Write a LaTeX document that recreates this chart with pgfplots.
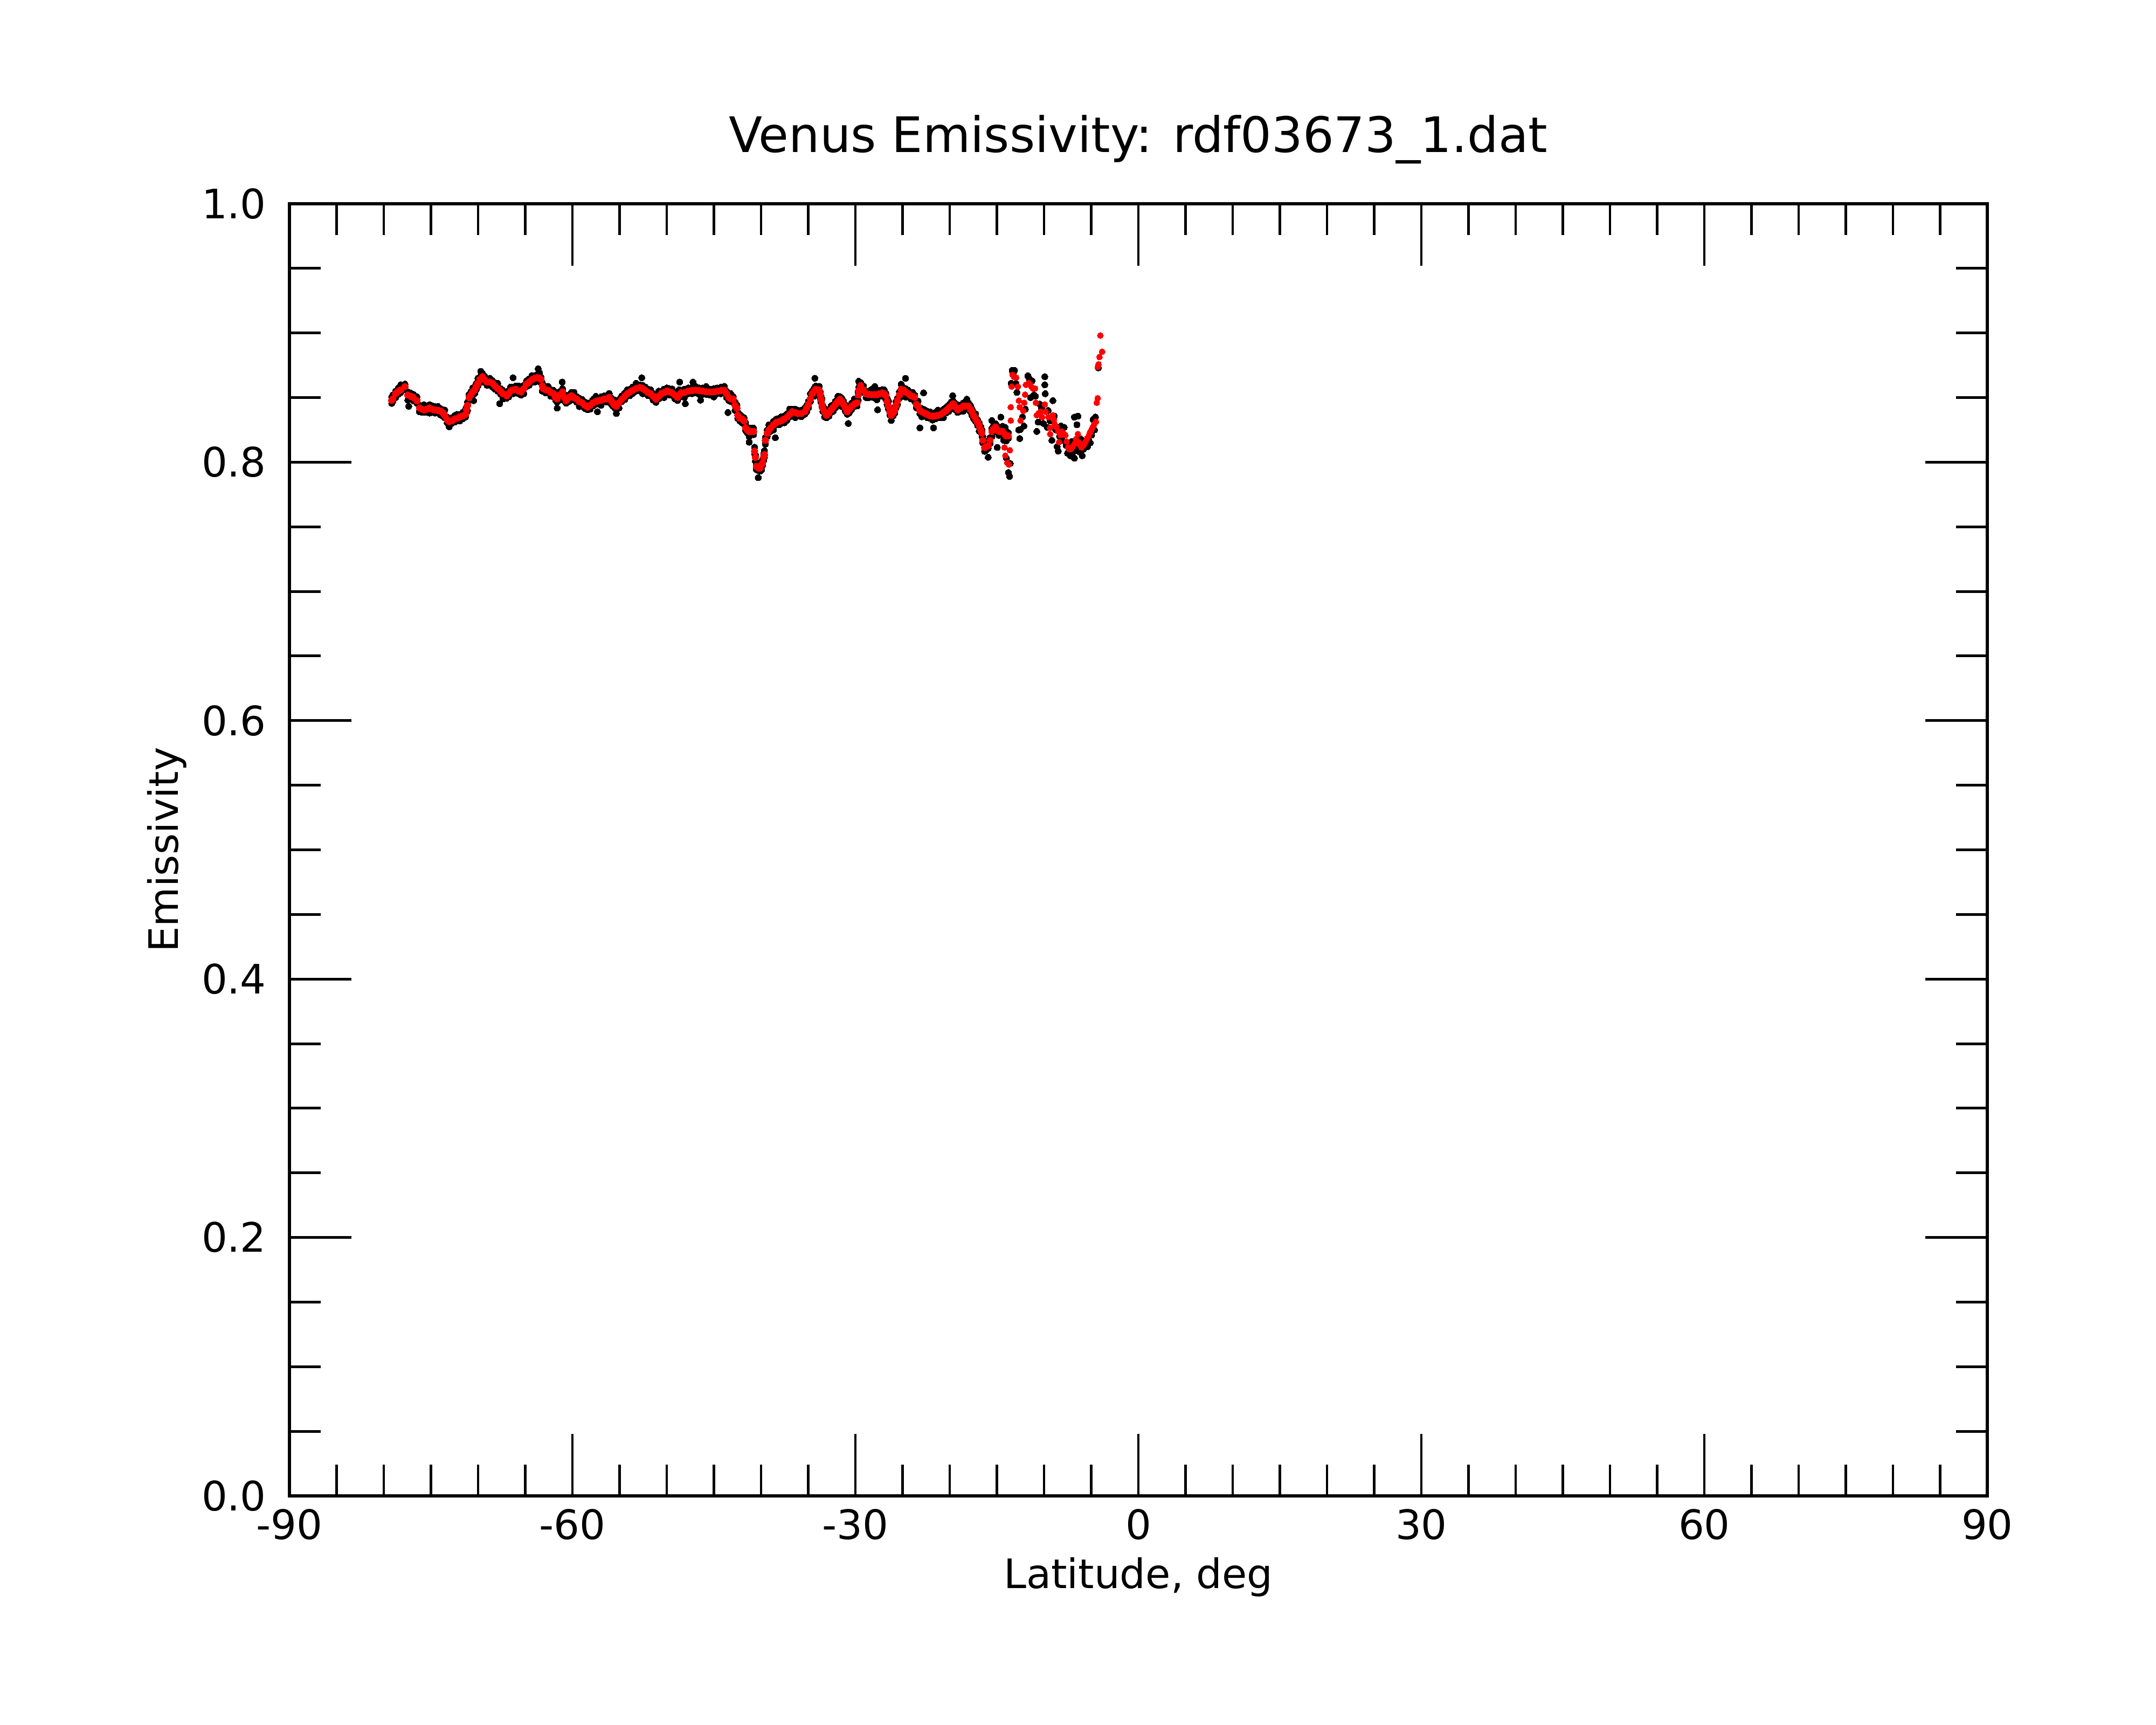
\documentclass[border=0pt]{standalone}
\usepackage{fontspec}
\setmainfont{DejaVu Sans}
\usepackage{pgfplots}
\usepackage{pgfplotstable}
\pgfplotsset{compat=1.18}

\pgfplotstableread{
x r b1 b2
-79.16 0.848 0.8505 0.8455
-79.05 0.849 0.852 0.847
-78.75 0.853 0.855 0.850
-78.45 0.855 0.8575 0.8525
-78.20 0.856 0.860 0.854
-77.75 0.8585 0.8605 0.856
-77.45 0.852 0.8545 0.848
-77.15 0.851 0.8535 0.849
-76.85 0.850 0.8525 0.8475
-76.49 0.8476 0.8506 0.8456
-76.21 0.842 0.844 0.839
-75.94 0.841 0.8435 0.8385
-75.74 0.8405 0.8445 0.8385
-75.44 0.841 0.843 0.8385
-75.14 0.842 0.8445 0.838
-74.84 0.841 0.8435 0.839
-74.59 0.8405 0.843 0.838
-74.24 0.840 0.843 0.838
-74.01 0.8397 0.8417 0.8367
-73.73 0.838 0.8405 0.8355
-73.53 0.8363 0.8403 0.8343
-73.28 0.833 0.835 0.8305
-73.06 0.8314 0.8339 0.8274
-72.78 0.832 0.8345 0.830
-72.49 0.8335 0.836 0.831
-72.23 0.834 0.837 0.832
-71.93 0.835 0.837 0.832
-71.62 0.836 0.8385 0.8335
-71.34 0.837 0.841 0.835
-71.22 0.841 0.843 0.8385
-71.12 0.844 0.8465 0.840
-70.96 0.850 0.8525 0.848
-70.77 0.852 0.8545 0.8495
-70.58 0.8544 0.8574 0.8524
-70.37 0.856 0.858 0.853
-70.20 0.8585 0.861 0.856
-70.02 0.861 0.865 0.859
-69.82 0.864 0.866 0.8615
-69.54 0.8662 0.8687 0.8622
-69.31 0.864 0.8665 0.862
-69.05 0.862 0.8645 0.8595
-68.76 0.862 0.865 0.860
-68.49 0.8613 0.8633 0.8583
-68.21 0.859 0.8615 0.8565
-67.92 0.857 0.861 0.855
-67.61 0.855 0.857 0.8525
-67.35 0.853 0.8555 0.849
-66.97 0.8515 0.854 0.8495
-66.75 0.853 0.8555 0.8505
-66.58 0.855 0.858 0.853
-66.30 0.856 0.858 0.853
-66.01 0.8564 0.8589 0.8539
-65.70 0.855 0.859 0.853
-65.44 0.8544 0.8564 0.8519
-65.15 0.857 0.8595 0.853
-64.87 0.8605 0.863 0.8585
-64.60 0.862 0.8645 0.8595
-64.29 0.864 0.867 0.862
-63.99 0.865 0.867 0.862
-63.72 0.8654 0.8679 0.8629
-63.49 0.865 0.869 0.863
-63.34 0.864 0.866 0.8615
-63.19 0.859 0.8615 0.855
-63.09 0.857 0.8595 0.855
-62.84 0.856 0.8585 0.8535
-62.58 0.8557 0.8587 0.8537
-62.29 0.854 0.856 0.851
-62.00 0.853 0.8555 0.8505
-61.78 0.850 0.854 0.848
-61.62 0.849 0.851 0.8465
-61.38 0.852 0.8545 0.848
-61.05 0.8544 0.8569 0.8524
-60.83 0.850 0.8525 0.8475
-60.67 0.8476 0.8506 0.8456
-60.38 0.850 0.852 0.847
-60.10 0.8515 0.854 0.849
-59.83 0.850 0.854 0.848
-59.53 0.8488 0.8508 0.8463
-59.27 0.847 0.8495 0.843
-58.96 0.846 0.8485 0.844
-58.67 0.844 0.8465 0.8415
-58.39 0.8426 0.8456 0.8406
-58.12 0.844 0.846 0.841
-57.82 0.846 0.8485 0.8435
-57.52 0.847 0.851 0.845
-57.25 0.8476 0.8496 0.8451
-56.96 0.848 0.8505 0.844
-56.67 0.8488 0.8513 0.8468
-56.36 0.849 0.8515 0.8465
-56.10 0.8502 0.8532 0.8482
-55.91 0.848 0.850 0.845
-55.72 0.846 0.8485 0.8435
-55.51 0.844 0.848 0.842
-55.34 0.8433 0.8453 0.8408
-55.06 0.846 0.8485 0.842
-54.77 0.8488 0.8513 0.8468
-54.45 0.851 0.8535 0.8485
-54.19 0.853 0.856 0.851
-53.90 0.8545 0.8565 0.8515
-53.62 0.8557 0.8582 0.8532
-53.25 0.857 0.861 0.855
-52.86 0.8578 0.8598 0.8553
-52.55 0.857 0.8595 0.853
-52.28 0.8557 0.8582 0.8537
-51.99 0.854 0.8565 0.8515
-51.71 0.853 0.856 0.851
-51.44 0.851 0.853 0.848
-51.14 0.8488 0.8513 0.8463
-50.84 0.851 0.855 0.849
-50.57 0.853 0.855 0.8505
-50.29 0.854 0.8565 0.850
-49.99 0.855 0.8575 0.853
-49.73 0.8545 0.857 0.852
-49.43 0.8537 0.8567 0.8517
-49.13 0.852 0.854 0.849
-48.86 0.8502 0.8527 0.8477
-48.68 0.852 0.856 0.850
-48.48 0.8537 0.8557 0.8512
-48.13 0.854 0.8565 0.850
-47.72 0.855 0.8575 0.853
-47.32 0.8555 0.858 0.853
-46.95 0.8557 0.8587 0.8537
-46.57 0.8555 0.8575 0.8525
-46.19 0.855 0.8575 0.8525
-45.82 0.8545 0.8585 0.8525
-45.43 0.8544 0.8564 0.8519
-45.01 0.8545 0.857 0.8505
-44.66 0.855 0.8575 0.853
-44.26 0.8555 0.858 0.853
-43.90 0.8557 0.8587 0.8537
-43.66 0.853 0.855 0.850
-43.42 0.8502 0.8527 0.8477
-43.21 0.849 0.853 0.847
-42.95 0.8488 0.8508 0.8463
-42.76 0.844 0.8465 0.840
-42.56 0.8418 0.8443 0.8398
-42.47 0.8363 0.8388 0.8338
-42.25 0.834 0.837 0.832
-42.02 0.8335 0.8355 0.8305
-41.80 0.832 0.8345 0.8295
-41.64 0.8266 0.8306 0.8246
-41.45 0.825 0.827 0.8225
-41.26 0.8238 0.8263 0.8198
-41.00 0.8238 0.8263 0.8218
-40.79 0.8238 0.8263 0.8213
-40.69 0.8086 0.8116 0.8066
-40.60 0.8038 0.8058 0.8008
-40.50 0.7968 0.7993 0.7943
-40.30 0.7955 0.7995 0.7935
-40.11 0.7955 0.7975 0.793
-39.94 0.798 0.8005 0.794
-39.83 0.7996 0.8021 0.7976
-39.72 0.804 0.8065 0.8015
-39.64 0.8059 0.8089 0.8039
-39.54 0.8169 0.8189 0.8139
-39.35 0.8224 0.8249 0.8199
-39.17 0.825 0.829 0.823
-38.97 0.8266 0.8286 0.8241
-38.69 0.829 0.8315 0.825
-38.40 0.8308 0.8333 0.8288
-38.09 0.8315 0.834 0.829
-37.83 0.8322 0.8352 0.8302
-37.53 0.8335 0.8355 0.8305
-37.25 0.8349 0.8374 0.8324
-36.98 0.837 0.841 0.835
-36.68 0.8391 0.8411 0.8366
-36.38 0.8385 0.841 0.8345
-36.11 0.8377 0.8402 0.8357
-35.73 0.8377 0.8402 0.8352
-35.36 0.8391 0.8421 0.8371
-35.17 0.842 0.844 0.839
-34.97 0.8447 0.8472 0.8422
-34.77 0.849 0.853 0.847
-34.59 0.853 0.855 0.8505
-34.37 0.855 0.8575 0.851
-34.21 0.8564 0.8589 0.8544
-34.02 0.856 0.8585 0.8535
-33.83 0.8557 0.8587 0.8537
-33.72 0.852 0.854 0.849
-33.64 0.8488 0.8513 0.8463
-33.55 0.845 0.849 0.843
-33.45 0.8418 0.8438 0.8393
-33.27 0.839 0.8415 0.835
-33.07 0.8363 0.8388 0.8343
-32.82 0.838 0.8405 0.8355
-32.58 0.8405 0.8435 0.8385
-32.36 0.8425 0.8445 0.8395
-32.11 0.8447 0.8472 0.8422
-31.86 0.847 0.851 0.845
-31.63 0.8488 0.8508 0.8463
-31.44 0.847 0.8495 0.843
-31.25 0.8447 0.8472 0.8427
-31.06 0.842 0.8445 0.8395
-30.87 0.8391 0.8421 0.8371
-30.66 0.841 0.843 0.838
-30.39 0.8433 0.8458 0.8408
-30.10 0.845 0.849 0.843
-29.82 0.846 0.848 0.8435
-29.70 0.852 0.8545 0.848
-29.63 0.8557 0.8582 0.8537
-29.44 0.8592 0.8617 0.8567
-29.15 0.856 0.859 0.854
-28.87 0.853 0.855 0.850
-28.60 0.8525 0.855 0.850
-28.30 0.8523 0.8563 0.8503
-27.99 0.8523 0.8543 0.8498
-27.72 0.8523 0.8548 0.8483
-27.44 0.853 0.8555 0.851
-27.15 0.8537 0.8562 0.8512
-26.94 0.853 0.856 0.851
-26.77 0.8515 0.8535 0.8485
-26.64 0.847 0.8495 0.8445
-26.49 0.8433 0.8473 0.8413
-26.34 0.839 0.841 0.8365
-26.20 0.8363 0.8388 0.8323
-25.99 0.838 0.8405 0.836
-25.82 0.8405 0.843 0.838
-25.69 0.844 0.847 0.842
-25.53 0.8476 0.8496 0.8446
-25.33 0.852 0.8545 0.8495
-25.15 0.8564 0.8604 0.8544
-24.93 0.856 0.858 0.8535
-24.68 0.8544 0.8569 0.8504
-24.38 0.853 0.8555 0.851
-24.11 0.8515 0.854 0.849
-23.93 0.851 0.854 0.849
-23.73 0.8502 0.8522 0.8472
-23.54 0.8447 0.8472 0.8422
-23.35 0.8433 0.8473 0.8413
-23.16 0.840 0.842 0.8375
-22.96 0.8391 0.8416 0.8351
-22.67 0.838 0.8405 0.836
-22.39 0.837 0.8395 0.8345
-22.12 0.836 0.839 0.834
-21.82 0.8356 0.8376 0.8326
-21.52 0.836 0.8385 0.8335
-21.25 0.8363 0.8403 0.8343
-20.97 0.837 0.839 0.8345
-20.67 0.8384 0.8409 0.8344
-20.39 0.840 0.8425 0.838
-20.10 0.8418 0.8443 0.8393
-19.86 0.8435 0.8465 0.8415
-19.63 0.8453 0.8473 0.8423
-19.41 0.843 0.8455 0.8405
-19.15 0.8405 0.8445 0.8385
-18.86 0.842 0.844 0.8395
-18.58 0.8433 0.8458 0.8393
-18.31 0.8435 0.846 0.8415
-18.00 0.8433 0.8458 0.8408
-17.80 0.841 0.844 0.839
-17.63 0.8391 0.8411 0.8361
-17.45 0.836 0.8385 0.8335
-17.25 0.8335 0.8375 0.8315
-17.05 0.831 0.833 0.8285
-16.87 0.828 0.8305 0.824
-16.70 0.825 0.8275 0.823
-16.58 0.8225 0.825 0.820
-16.49 0.8169 0.8199 0.8149
-16.30 0.8114 0.8134 0.8084
-16.10 0.812 0.8145 0.8095
-15.92 0.8127 0.8167 0.8107
-15.72 0.8169 0.8189 0.8144
-15.53 0.8238 0.8263 0.8198
-15.34 0.826 0.8285 0.824
-15.15 0.8273 0.8298 0.8248
-14.96 0.825 0.828 0.823
-14.77 0.8238 0.8258 0.8208
-14.59 0.8238 0.8263 0.8213
-14.39 0.8238 0.8278 0.8218
-14.19 0.822 0.824 0.8195
-14.01 0.8204 0.8229 0.8164
-13.79 0.8204 0.8229 0.8184
}\smooth

\pgfplotstableread{
x y
-14.19 0.8114
-14.10 0.8051
-13.91 0.7996
-13.72 0.7982
-13.62 0.8093
-13.53 0.8322
-13.53 0.8426
-13.43 0.8585
-13.34 0.8676
-13.18 0.866
-12.96 0.8655
-12.77 0.8585
-12.67 0.8476
-12.58 0.8426
-12.49 0.8322
-12.20 0.8397
-12.10 0.846
-12.01 0.8523
-11.92 0.8599
-11.63 0.8613
-11.48 0.860
-11.35 0.8585
-11.17 0.857
-10.96 0.857
-10.87 0.846
-10.77 0.8363
-10.57 0.838
-10.39 0.8391
-10.20 0.8349
-9.92 0.8447
-9.83 0.8391
-9.54 0.8349
-9.35 0.8266
-9.35 0.8218
-9.06 0.8363
-8.96 0.833
-8.87 0.8294
-8.66 0.827
-8.49 0.8238
-8.40 0.8155
-8.26 0.821
-8.11 0.8238
-7.91 0.822
-7.73 0.821
-7.61 0.816
-7.45 0.8114
-7.31 0.810
-7.16 0.8101
-6.96 0.812
-6.78 0.8142
-6.61 0.818
-6.41 0.8218
-6.31 0.8155
-6.16 0.813
-6.02 0.8114
-5.85 0.813
-5.73 0.8142
-5.60 0.816
-5.45 0.8183
-5.30 0.820
-5.16 0.8224
-5.02 0.8245
-4.88 0.8266
-4.70 0.829
-4.50 0.8314
-4.41 0.846
-4.31 0.8495
-4.31 0.8738
-4.22 0.8758
-4.12 0.8814
-3.84 0.8855
-4.03 0.898
}\redscatter

\pgfplotstableread{
x y
-14.28 0.817
-14.13 0.827
-13.98 0.803
-13.78 0.792
-13.66 0.789
-13.58 0.799
-13.48 0.861
-13.38 0.871
-13.28 0.869
-13.13 0.871
-12.98 0.861
-12.88 0.854
-12.68 0.825
-12.58 0.8183
-12.53 0.8252
-12.28 0.835
-12.13 0.828
-11.98 0.841
-11.72 0.8668
-11.58 0.865
-11.43 0.850
-11.27 0.863
-11.07 0.852
-10.92 0.851
-10.77 0.8238
-10.62 0.831
-10.47 0.845
-10.27 0.842
-10.07 0.830
-9.92 0.8662
-9.92 0.8599
-9.87 0.853
-9.67 0.827
-9.57 0.840
-9.37 0.832
-9.17 0.817
-9.06 0.8476
-8.91 0.8356
-8.76 0.825
-8.61 0.812
-8.49 0.8086
-8.36 0.820
-8.21 0.828
-8.06 0.817
-7.86 0.827
-7.66 0.813
-7.51 0.807
-7.36 0.814
-7.21 0.805
-7.06 0.816
-6.91 0.808
-6.78 0.8031
-6.78 0.8349
-6.66 0.811
-6.51 0.829
-6.41 0.8356
-6.26 0.808
-6.11 0.818
-5.96 0.805
-5.81 0.810
-5.65 0.8114
-5.55 0.8142
-5.40 0.812
-5.25 0.817
-5.10 0.815
-4.95 0.821
-4.80 0.833
-4.65 0.825
-4.55 0.835
-4.25 0.873
-41.26 0.8155
-38.49 0.819
-40.30 0.788
-34.30 0.865
-29.65 0.8626
-30.76 0.830
-24.68 0.8648
-23.16 0.8266
-27.64 0.8405
-27.94 0.8585
-67.71 0.8453
-63.63 0.8724
-77.35 0.8433
-61.62 0.8418
-70.47 0.8476
-66.30 0.8654
-69.72 0.8703
-52.65 0.8654
-55.34 0.8377
-57.35 0.8391
-48.03 0.8453
-46.42 0.848
-43.51 0.8384
-61.08 0.862
-48.63 0.862
-47.22 0.862
-21.72 0.8266
-22.77 0.8537
-19.69 0.8515
-18.19 0.8488
-15.92 0.8038
-14.96 0.8114
-14.58 0.8349
-15.53 0.8322
}\blackscatter

\newcommand{\lblfont}{\fontsize{13.6}{16}\selectfont}
\newcommand{\ttlfont}{\fontsize{16.4}{19}\selectfont}

\begin{document}
\begin{tikzpicture}
\useasboundingbox (-1.3425in,-1.0625in) rectangle (8.6575in,6.9375in);
\begin{axis}[
  at={(0,0)}, anchor=south west,
  scale only axis,
  width=7.875in, height=5.9925in,
  xmin=-90, xmax=90, ymin=0, ymax=1,
  xtick={-90,-60,-30,0,30,60,90},
  xticklabels={-90,-60,-30,0,30,60,90},
  ytick={0,0.2,0.4,0.6,0.8,1.0},
  yticklabels={0.0,0.2,0.4,0.6,0.8,1.0},
  minor x tick num=5,
  minor y tick num=3,
  tick align=inside,
  major tick length=20.7pt,
  minor tick length=10.4pt,
  every tick/.style={black, line width=0.9pt},
  axis line style={black, line width=1.1pt},
  tick label style={font=\lblfont, inner sep=0pt},
  xticklabel style={anchor=north, yshift=-4.2pt},
  yticklabel style={anchor=east, xshift=-7.6pt},
  title={Venus Emissivity: rdf03673\_1.dat},
  title style={font=\ttlfont, at={(axis description cs:0.5,1)}, anchor=base, yshift=11.3pt, inner sep=0pt},
  xlabel={Latitude, deg},
  xlabel style={font=\lblfont, at={(axis description cs:0.5,0)}, anchor=base, yshift=-31pt, inner sep=0pt},
  ylabel={Emissivity},
  ylabel style={font=\lblfont, at={(axis description cs:-0.0655,0.5)}, anchor=base, inner sep=0pt},
  clip=true,
]
\addplot[black, only marks, mark=*, mark size=1.05pt, mark options={solid, draw=black, line width=0pt, fill=black}] table[x=x, y=b1] {\smooth};
\addplot[black, only marks, mark=*, mark size=1.05pt, mark options={solid, draw=black, line width=0pt, fill=black}] table[x=x, y=b2] {\smooth};
\addplot[black, only marks, mark=*, mark size=1.05pt, mark options={solid, draw=black, line width=0pt, fill=black}] table[x=x, y=y] {\blackscatter};
\addplot[red, only marks, mark=*, mark size=1.1pt, mark options={solid, draw=red, line width=0pt, fill=red}] table[x=x, y=r] {\smooth};
\addplot[red, only marks, mark=*, mark size=1.0pt, mark options={solid, draw=red, line width=0pt, fill=red}] table[x=x, y=y] {\redscatter};
\end{axis}
\end{tikzpicture}
\end{document}
